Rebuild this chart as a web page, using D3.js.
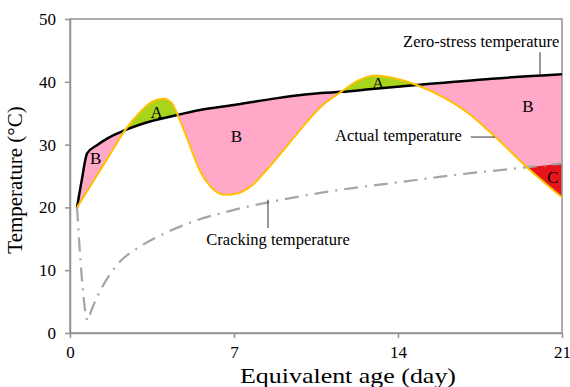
<!DOCTYPE html>
<html>
<head>
<meta charset="utf-8">
<script src="https://cdn.jsdelivr.net/npm/d3@7"></script>
<style>
  body { margin: 0; background: #fff; }
  text { font-family: "Liberation Serif", "Times New Roman", serif; fill: #000; }
</style>
</head>
<body>
<div id="container"></div>
<script>
/* DATA */
// [equivalent age (day), temperature (°C)]
const zeroStress = [[0.3,20],[0.5,24.3],[0.73,28.6],[1.15,29.9],[1.6,31.0],[2.35,32.3],[3.0,33.2],[4.57,34.7],[5.55,35.5],[7,36.3],[8.5,37.2],[10.7,38.2],[11.57,38.4],[13,38.9],[14.8,39.5],[15.8,39.8],[18,40.5],[21,41.2]];
const actual = [[0.3,20],[1.0,24.2],[1.7,28.4],[2.35,32.3],[3.0,35.2],[3.5,36.8],[4.0,37.3],[4.35,36.6],[4.6,34.7],[5.0,31.0],[5.55,25.8],[6.0,23.3],[6.6,22.0],[7.2,22.3],[7.8,23.6],[8.4,26.0],[9.0,28.6],[9.7,31.8],[10.7,36.0],[11.57,38.4],[12.3,40.2],[13.1,41.0],[13.8,40.6],[14.8,39.5],[16,37.4],[17,35.0],[18.1,31.4],[19.5,26.4],[21,21.6]];
const cracking = [[0.3,20],[0.5,9],[0.65,3.5],[0.75,2],[0.9,3.5],[1.3,6.8],[2,10.8],[3,13.8],[4,15.8],[5.3,17.8],[7,19.6],[9,21.2],[11,22.5],[14,24],[17,25.4],[19.5,26.4],[21,27]];

const xTicks = [0, 7, 14, 21];
const yTicks = [0, 10, 20, 30, 40, 50];

// region letters
const regionLabels = [
  { t: "B", x: 1.1, y: 27.9 },
  { t: "A", x: 3.7, y: 35.2 },
  { t: "B", x: 7.1, y: 31.4 },
  { t: "A", x: 13.15, y: 39.8 },
  { t: "B", x: 19.55, y: 36.1 },
  { t: "C", x: 20.6, y: 24.8 }
];

// curve callouts: text position + leader line
const callouts = [
  { t: "Zero-stress temperature", x: 17.55, y: 45.5, anchor: "middle", line: [[20.06, 44.7], [20.06, 41.1]] },
  { t: "Actual temperature", x: 16.73, y: 30.6, anchor: "end", line: [[17.11, 31.2], [18.14, 31.2]] },
  { t: "Cracking temperature", x: 8.88, y: 14.0, anchor: "middle", line: [[8.45, 21.2], [8.45, 16.7]] }
];

/* CHART */
const W = 570, H = 387,
      margin = { top: 19, right: 8, bottom: 54, left: 70 };

const svg = d3.select("#container").append("svg")
  .attr("width", W).attr("height", H);

const x = d3.scaleLinear().domain([0, 21]).range([margin.left, W - margin.right]);
const y = d3.scaleLinear().domain([0, 50]).range([H - margin.bottom, margin.top]);

const curve = d3.curveMonotoneX;
const line = d3.line().x(d => x(d[0])).y(d => y(d[1])).curve(curve);
const areaBelow = d3.area().x(d => x(d[0])).y0(y(0)).y1(d => y(d[1])).curve(curve);
const areaAbove = d3.area().x(d => x(d[0])).y0(y(50)).y1(d => y(d[1])).curve(curve);

const defs = svg.append("defs");
defs.append("clipPath").attr("id", "aboveActual")
  .append("path").attr("d", areaAbove(actual));
defs.append("clipPath").attr("id", "aboveZero")
  .append("path").attr("d", areaAbove(zeroStress));

// pink: between actual (below) and zero-stress (above)
svg.append("g").attr("clip-path", "url(#aboveActual)")
  .append("path").attr("d", areaBelow(zeroStress)).attr("fill", "#ffa8c8");
// red: actual dropped below cracking
svg.append("g").attr("clip-path", "url(#aboveActual)")
  .append("path").attr("d", areaBelow(cracking)).attr("fill", "#e8141c");
// green: actual above zero-stress
svg.append("g").attr("clip-path", "url(#aboveZero)")
  .append("path").attr("d", areaBelow(actual)).attr("fill", "#a8d41c");

// frame
const axisColor = "#939393";
svg.append("rect")
  .attr("x", x(0)).attr("y", y(50))
  .attr("width", x(21) - x(0)).attr("height", y(0) - y(50))
  .attr("fill", "none").attr("stroke", axisColor).attr("stroke-width", 1.5);

// axes
const xAxis = svg.append("g")
  .attr("transform", `translate(0,${y(0)})`)
  .call(d3.axisBottom(x).tickValues(xTicks).tickSizeInner(5).tickSizeOuter(0).tickPadding(8));
const yAxis = svg.append("g")
  .attr("transform", `translate(${x(0)},0)`)
  .call(d3.axisLeft(y).tickValues(yTicks).tickSizeInner(5).tickSizeOuter(0).tickPadding(9));

[xAxis, yAxis].forEach(a => {
  a.select(".domain").attr("stroke", axisColor).attr("stroke-width", 1.5);
  a.selectAll(".tick line").attr("stroke", axisColor).attr("stroke-width", 1.5);
  a.selectAll(".tick text")
    .style("font-family", "'Liberation Serif', 'Times New Roman', serif")
    .style("font-size", "17px").attr("fill", "#000");
});

// lines
svg.append("path").attr("d", line(cracking))
  .attr("fill", "none").attr("stroke", "#a6a6a6").attr("stroke-width", 2.25)
  .attr("stroke-dasharray", "14,7,2,7");
svg.append("path").attr("d", line(zeroStress))
  .attr("fill", "none").attr("stroke", "#000").attr("stroke-width", 2.5);
svg.append("path").attr("d", line(actual))
  .attr("fill", "none").attr("stroke", "#ffc000").attr("stroke-width", 2);

// region letters
svg.selectAll(".region")
  .data(regionLabels)
  .join("text")
  .attr("class", "region")
  .attr("x", d => x(d.x))
  .attr("y", d => y(d.y))
  .attr("text-anchor", "middle")
  .attr("dy", "0.35em")
  .style("font-size", "17px")
  .text(d => d.t);

// callouts
callouts.forEach(c => {
  svg.append("path")
    .attr("d", d3.line().x(d => x(d[0])).y(d => y(d[1]))(c.line))
    .attr("stroke", "#595959").attr("stroke-width", 1.25).attr("fill", "none");
  svg.append("text")
    .attr("x", x(c.x)).attr("y", y(c.y))
    .attr("text-anchor", c.anchor)
    .style("font-size", "16.5px")
    .text(c.t);
});

// axis titles
svg.append("text")
  .attr("x", 348).attr("y", 383)
  .attr("text-anchor", "middle")
  .attr("textLength", 216)
  .attr("lengthAdjust", "spacingAndGlyphs")
  .style("font-size", "22px")
  .text("Equivalent age (day)");

svg.append("text")
  .attr("transform", "rotate(-90)")
  .attr("x", -(margin.top + (H - margin.bottom)) / 2 - 4)
  .attr("y", 22)
  .attr("text-anchor", "middle")
  .style("font-size", "21px")
  .text("Temperature (°C)");
</script>
</body>
</html>
